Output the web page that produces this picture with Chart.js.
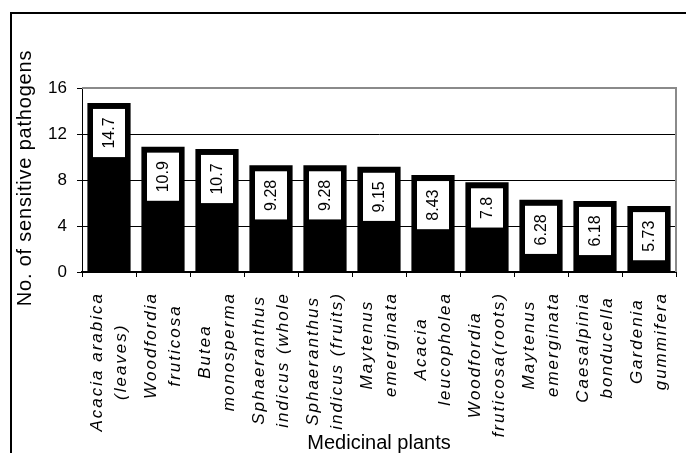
<!DOCTYPE html>
<html><head><meta charset="utf-8">
<script src="https://cdn.jsdelivr.net/npm/chart.js@4/dist/chart.umd.min.js"></script>
<style>html,body{margin:0;padding:0;background:#fff}#wrap{width:686px;height:453px;position:relative}</style>
</head><body><div id="wrap"><canvas id="c"></canvas></div>
<script>
const categories = [
  ["Acacia arabica", "(leaves)"],
  ["Woodfordia", "fruticosa"],
  ["Butea", "monosperma"],
  ["Sphaeranthus", "indicus (whole"],
  ["Sphaeranthus", "indicus (fruits)"],
  ["Maytenus", "emerginata"],
  ["Acacia", "leucopholea"],
  ["Woodfordia", "fruticosa(roots)"],
  ["Maytenus", "emerginata"],
  ["Caesalpinia", "bonducella"],
  ["Gardenia", "gummifera"]
];
const sensitivePathogens = [14.7, 10.9, 10.7, 9.28, 9.28, 9.15, 8.43, 7.8, 6.28, 6.18, 5.73];
const valueLabels = ["14.7", "10.9", "10.7", "9.28", "9.28", "9.15", "8.43", "7.8", "6.28", "6.18", "5.73"];
const yTicks = [0, 4, 8, 12, 16];
const yTitle = "No. of sensitive pathogens";
const xTitle = "Medicinal plants";

const FONT = '"Liberation Sans", Arial, sans-serif';
Chart.defaults.font.family = FONT;
Chart.defaults.color = '#000';

const decor = {
  id: 'decor',
  beforeDraw(chart) {
    const ctx = chart.ctx;
    ctx.save();
    ctx.fillStyle = '#fff';
    ctx.fillRect(0, 0, chart.width, chart.height);
    ctx.strokeStyle = '#000';
    ctx.lineWidth = 2;
    ctx.strokeRect(11, 13, chart.width + 50, chart.height + 50);
    ctx.restore();
  },
  afterDatasetsDraw(chart) {
    const ctx = chart.ctx;
    const meta = chart.getDatasetMeta(0);
    ctx.save();
    ctx.font = '16px ' + FONT;
    meta.data.forEach((bar, i) => {
      const txt = valueLabels[i];
      const tw = ctx.measureText(txt).width;
      const h = tw + 17, w = 32;
      const top = bar.y + 6;
      ctx.fillStyle = '#fff';
      ctx.fillRect(bar.x - w / 2, top, w, h);
      ctx.save();
      ctx.translate(bar.x + 0.5, top + h / 2);
      ctx.rotate(-Math.PI / 2);
      ctx.fillStyle = '#000';
      ctx.textAlign = 'center';
      ctx.textBaseline = 'middle';
      ctx.fillText(txt, 0, 0);
      ctx.restore();
    });
    ctx.restore();
  },
  afterDraw(chart) {
    const ctx = chart.ctx;
    const a = chart.chartArea;
    ctx.save();
    // plot border top/right
    ctx.strokeStyle = '#8a8a8a';
    ctx.lineWidth = 2;
    ctx.beginPath();
    ctx.moveTo(a.left, a.top);
    ctx.lineTo(a.right, a.top);
    ctx.lineTo(a.right, a.bottom);
    ctx.stroke();
    // y title
    ctx.fillStyle = '#000';
    ctx.font = '20px ' + FONT;
    if ('letterSpacing' in ctx) ctx.letterSpacing = '0.8px';
    ctx.save();
    ctx.translate(25, (a.top + a.bottom) / 2 - 2);
    ctx.rotate(-Math.PI / 2);
    ctx.textAlign = 'center';
    ctx.textBaseline = 'middle';
    ctx.fillText(yTitle, 0, 0);
    ctx.restore();
    // x category labels, centred multi-line blocks
    const xs = chart.scales.x;
    ctx.font = 'italic 17px ' + FONT;
    if ('letterSpacing' in ctx) ctx.letterSpacing = '2px';
    const lh = 24;
    categories.forEach((lines, i) => {
      const x = xs.getPixelForValue(i);
      const maxW = Math.max(...lines.map(l => ctx.measureText(l).width));
      const cy = a.bottom + 20 + maxW / 2;
      ctx.save();
      ctx.translate(x, cy);
      ctx.rotate(-Math.PI / 2);
      ctx.textAlign = 'center';
      ctx.textBaseline = 'middle';
      lines.forEach((l, j) => {
        ctx.fillText(l, 0, (j - (lines.length - 1) / 2) * lh);
      });
      ctx.restore();
    });
    ctx.restore();
  }
};

new Chart(document.getElementById('c'), {
  type: 'bar',
  data: {
    labels: categories,
    datasets: [{
      data: sensitivePathogens,
      backgroundColor: '#000',
      borderWidth: 0,
      barPercentage: 0.8,
      categoryPercentage: 1.0
    }]
  },
  options: {
    responsive: true,
    maintainAspectRatio: false,
    animation: false,
    layout: { padding: { top: 88, right: 10, bottom: 0, left: 0 } },
    plugins: { legend: { display: false }, tooltip: { enabled: false } },
    scales: {
      x: {
        offset: true,
        grid: { offset: true, drawOnChartArea: false, drawTicks: true, tickLength: 5, color: '#000' },
        border: { display: true, color: '#000', width: 2 },
        ticks: { display: false },
        title: { display: true, text: xTitle, color: '#000', font: { size: 20, lineHeight: 1 }, padding: { top: 0, bottom: 0 } },
        afterFit(s) { s.height = 181; }
      },
      y: {
        min: 0, max: 16,
        afterBuildTicks(s) { s.ticks = yTicks.map(v => ({ value: v })); },
        grid: {
          color: c => (c.tick && c.tick.value === 16) ? '#8a8a8a' : '#000',
          tickColor: '#000',
          tickLength: 5,
          drawTicks: true
        },
        border: { display: true, color: '#000', width: 1 },
        ticks: { color: '#000', font: { size: 17 }, padding: 10 },
        afterFit(s) { s.width = 82; }
      }
    }
  },
  plugins: [decor]
});
</script>
</body></html>
